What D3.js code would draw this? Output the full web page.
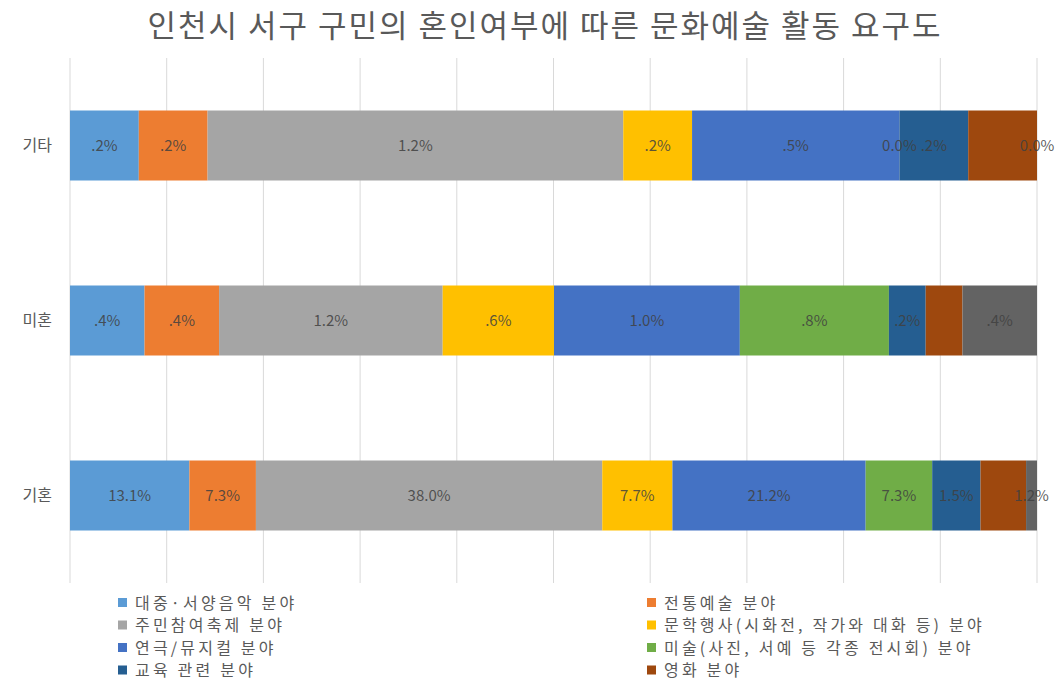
<!DOCTYPE html>
<html>
<head>
<meta charset="utf-8">
<script src="https://cdn.jsdelivr.net/npm/d3@7"></script>
<style>
  body { margin: 0; background: #fff; }
  text { font-family: "Noto Sans CJK KR", "Noto Sans", sans-serif; }
</style>
</head>
<body>
<script>
"use strict";

var width = 1061,
    height = 685;

// categories (top to bottom)
const groups = ["기타", "미혼", "기혼"];

// series names
const seriesNames = [
    "대중·서양음악 분야",
    "전통예술 분야",
    "주민참여축제 분야",
    "문학행사(시화전, 작가와 대화 등) 분야",
    "연극/뮤지컬 분야",
    "미술(사진, 서예 등 각종 전시회) 분야",
    "교육 관련 분야",
    "영화 분야",
    "기타 분야"
];

const colors = ["#5b9bd5", "#ed7d31", "#a5a5a5", "#ffc000", "#4472c4", "#70ad47", "#255e91", "#9e480e", "#636363"];

// values per group, one per series
const etcValues     = [7.1, 7.1, 42.9, 7.1, 21.4, 0, 7.1, 7.1, 0];
const singleValues  = [7.7, 7.7, 23.1, 11.5, 19.2, 15.4, 3.8, 3.8, 7.7];
const marriedValues = [13.1, 7.3, 38.0, 7.7, 21.2, 7.3, 5.3, 5.0, 1.2];

// data labels as printed on the chart
const etcLabels     = [".2%", ".2%", "1.2%", ".2%", ".5%", "0.0%", ".2%", "", "0.0%"];
const singleLabels  = [".4%", ".4%", "1.2%", ".6%", "1.0%", ".8%", ".2%", "", ".4%"];
const marriedLabels = ["13.1%", "7.3%", "38.0%", "7.7%", "21.2%", "7.3%", "1.5%", "", "1.2%"];

const ticks = [0, 0.1, 0.2, 0.3, 0.4, 0.5, 0.6, 0.7, 0.8, 0.9, 1];

const valuesByGroup = { "기타": etcValues, "미혼": singleValues, "기혼": marriedValues };
const labelsByGroup = { "기타": etcLabels, "미혼": singleLabels, "기혼": marriedLabels };

// legend shows only the first eight series
const legendCount = 8;

window.onload = function () {
    let svg = d3.select("body")
        .append("svg")
        .attr("width", width)
        .attr("height", height);

    svg.append("text")
        .attr("x", 545)
        .attr("y", 37)
        .attr("text-anchor", "middle")
        .attr("font-size", 31)
        .attr("letter-spacing", 2)
        .attr("fill", "#595959")
        .text("인천시 서구 구민의 혼인여부에 따른 문화예술 활동 요구도");

    let x = d3.scaleLinear().domain([0, 1]).range([70, 1037]);
    let y = d3.scaleBand().domain(groups).range([58, 583])
        .paddingInner(0.6).paddingOuter(0.3);

    // gridlines
    svg.append("g").selectAll("line")
        .data(ticks)
        .enter()
        .append("line")
        .attr("x1", d => x(d)).attr("x2", d => x(d))
        .attr("y1", 58).attr("y2", 583)
        .attr("stroke", "#d9d9d9")
        .attr("stroke-width", 1);

    // table for stacking
    let table = groups.map(function (g) {
        let row = { group: g };
        seriesNames.forEach((s, i) => row[s] = valuesByGroup[g][i]);
        return row;
    });

    let stacked = d3.stack()
        .keys(seriesNames)
        .offset(d3.stackOffsetExpand)(table);

    let layers = svg.append("g").selectAll("g")
        .data(stacked)
        .enter()
        .append("g")
        .attr("fill", (d, i) => colors[i]);

    layers.selectAll("rect")
        .data(d => d)
        .enter()
        .append("rect")
        .attr("x", d => x(d[0]))
        .attr("width", d => x(d[1]) - x(d[0]))
        .attr("y", d => y(d.data.group))
        .attr("height", y.bandwidth());

    // data labels
    let labelData = [];
    stacked.forEach(function (layer, i) {
        layer.forEach(function (d) {
            let txt = labelsByGroup[d.data.group][i];
            if (txt !== "") {
                labelData.push({ x: (d[0] + d[1]) / 2, group: d.data.group, text: txt });
            }
        });
    });

    svg.append("g").selectAll("text")
        .data(labelData)
        .enter()
        .append("text")
        .attr("x", d => x(d.x))
        .attr("y", d => y(d.group) + y.bandwidth() / 2)
        .attr("dy", "0.36em")
        .attr("text-anchor", "middle")
        .attr("font-size", 15)
        .attr("fill", "#404040")
        .attr("fill-opacity", 0.85)
        .text(d => d.text);

    // category labels
    svg.append("g").selectAll("text")
        .data(groups)
        .enter()
        .append("text")
        .attr("x", 52)
        .attr("y", d => y(d) + y.bandwidth() / 2)
        .attr("dy", "0.36em")
        .attr("text-anchor", "end")
        .attr("font-size", 16)
        .attr("fill", "#595959")
        .text(d => d);

    // legend
    let legend = svg.append("g").selectAll("g")
        .data(seriesNames.slice(0, legendCount))
        .enter()
        .append("g")
        .attr("transform", function (d, i) {
            let col = i % 2, row = Math.floor(i / 2);
            return "translate(" + (col === 0 ? 118 : 647) + "," + (603 + row * 22.5) + ")";
        });

    legend.append("rect")
        .attr("x", 0).attr("y", -5)
        .attr("width", 9).attr("height", 9)
        .attr("fill", (d, i) => colors[i]);

    legend.append("text")
        .attr("x", 17)
        .attr("dy", "0.36em")
        .attr("font-size", 16)
        .attr("letter-spacing", 3.2)
        .attr("fill", "#595959")
        .text(d => d);
};
</script>
</body>
</html>
